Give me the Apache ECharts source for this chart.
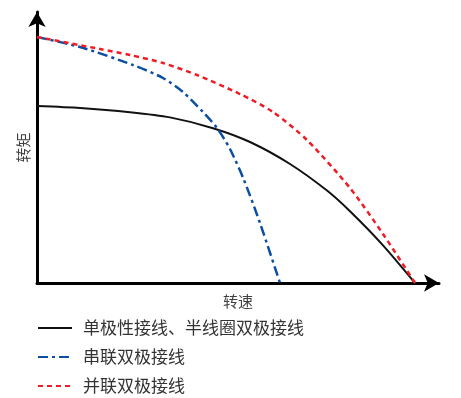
<!DOCTYPE html>
<html><head><meta charset="utf-8">
<script src="https://cdn.jsdelivr.net/npm/echarts@6/dist/echarts.min.js"></script>
<style>html,body{margin:0;padding:0;background:#fff}#c{width:461px;height:398px}</style>
</head><body><div id="c"></div>
<script>
const seriesNames = ['单极性接线、半线圈双极接线', '串联双极接线', '并联双极接线'];
const blackX = [0, 10.70, 23.13, 33.08, 43.78, 52.99, 62.94, 72.14, 77.86, 86.07, 94.03];
const blackY = [65.31, 64.58, 63.03, 61.11, 57.13, 52.03, 43.91, 34.10, 26.46, 13.90, 0];
const blueX = [0, 10.70, 23.88, 31.34, 36.32, 41.29, 44.78, 48.01, 51.49, 55.47, 60.45];
const blueY = [90.77, 87.08, 80.44, 75.65, 70.48, 63.10, 57.20, 49.45, 38.01, 22.14, 0];
const redX = [0, 15.67, 23.13, 31.34, 39.80, 50.50, 58.71, 67.16, 77.86, 86.07, 94.03];
const redY = [90.77, 86.35, 84.13, 81.18, 76.75, 69.74, 63.10, 52.77, 35.06, 18.08, 0];
const xName = '转速', yName = '转矩';
const zip = (a, b) => a.map((v, i) => [v, b[i]]);
const chart = echarts.init(document.getElementById('c'));
const axisCommon = {
  type: 'value', min: 0, max: 100,
  axisLine: {show: true, lineStyle: {color: '#000', width: 3}, symbol: ['none', 'arrow'], symbolSize: [13, 15]},
  axisTick: {show: false}, axisLabel: {show: false}, splitLine: {show: false},
  nameLocation: 'middle', nameTextStyle: {color: '#404040', fontSize: 15, fontFamily: 'Noto Sans CJK SC'}
};
chart.setOption({
  animation: false,
  grid: {left: 37, right: 22, top: 12, bottom: 115},
  xAxis: Object.assign({}, axisCommon, {name: xName, nameGap: 11}),
  yAxis: Object.assign({}, axisCommon, {name: yName, nameGap: 6, nameRotate: 90}),
  legend: {
    orient: 'vertical', left: 37, top: 319, padding: 0, itemWidth: 34, itemHeight: 14, itemGap: 11,
    itemStyle: {opacity: 0},
    textStyle: {color: '#333', fontSize: 17, lineHeight: 18, padding: [0, 0, 0, 6], fontFamily: 'Noto Sans CJK SC'},
    data: seriesNames
  },
  series: [
    {name: seriesNames[0], type: 'line', smooth: 0.25, symbol: 'none', data: zip(blackX, blackY),
     lineStyle: {color: '#111', width: 2}, itemStyle: {color: '#111'}},
    {name: seriesNames[1], type: 'line', smooth: 0.25, symbol: 'none', data: zip(blueX, blueY),
     lineStyle: {color: '#0b4ea2', width: 2.5, type: [10, 4, 3, 4]}, itemStyle: {color: '#0b4ea2'}},
    {name: seriesNames[2], type: 'line', smooth: 0.25, symbol: 'none', data: zip(redX, redY),
     lineStyle: {color: '#ee1c25', width: 2.5, type: [5, 4]}, itemStyle: {color: '#ee1c25'}}
  ]
});
</script></body></html>
